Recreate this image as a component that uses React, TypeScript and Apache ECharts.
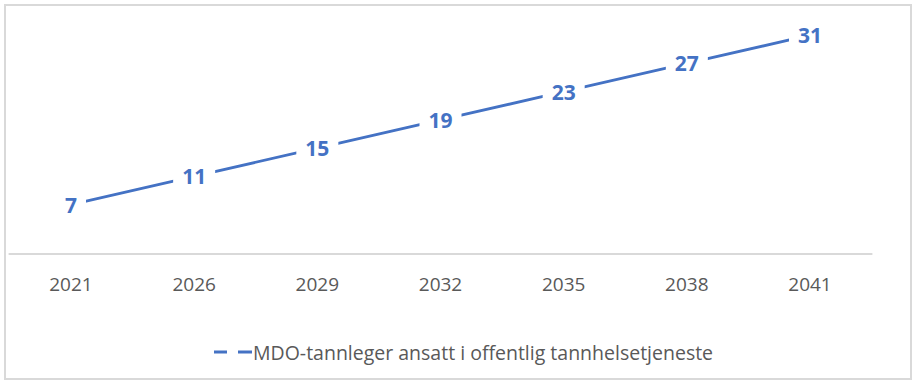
import React, { useEffect, useRef } from "react";
import * as echarts from "echarts";

const categories = ["2021", "2026", "2029", "2032", "2035", "2038", "2041"];
const values = [7, 11, 15, 19, 23, 27, 31];
const seriesName = "MDO-tannleger ansatt i offentlig tannhelsetjeneste";

export default function App() {
  const ref = useRef<HTMLDivElement>(null);
  useEffect(() => {
    if (!ref.current) return;
    const chart = echarts.init(ref.current, undefined, { renderer: "svg" });
    chart.setOption({
      animation: false,
      backgroundColor: "#ffffff",
      textStyle: { fontFamily: "Open Sans" },
      grid: { left: 9.4, right: 46.4, top: 7, bottom: 133 },
      xAxis: {
        type: "category",
        data: categories,
        boundaryGap: true,
        axisLine: { lineStyle: { color: "#d9d9d9", width: 2 } },
        axisTick: { show: false },
        axisLabel: { color: "#595959", fontSize: 19, margin: 20, fontFamily: "Open Sans" },
      },
      yAxis: {
        type: "value",
        min: 0,
        max: 35,
        show: false,
        splitLine: { show: false },
      },
      legend: {
        left: 209,
        top: 337,
        itemWidth: 38,
        itemHeight: 3,
        itemGap: 10,
        icon: "path://M0,0H13V3H0Z M24,0H38V3H24Z",
        textStyle: { color: "#595959", fontSize: 19.5, fontFamily: "Open Sans", padding: [0, 0, 0, -4] },
        data: [{ name: seriesName, itemStyle: { color: "#4472C4", opacity: 1 } }],
      },
      series: [
        {
          name: seriesName,
          type: "line",
          data: values,
          symbol: "circle",
          symbolSize: 1,
          showSymbol: true,
          itemStyle: { color: "rgba(68,114,196,0)" },
          lineStyle: { color: "#4472C4", width: 2.8 },
          label: {
            show: true,
            position: "inside",
            color: "#4472C4",
            fontWeight: "bold",
            fontSize: 21,
            fontFamily: "Open Sans",
            backgroundColor: "#ffffff",
            padding: [3, 9],
          },
        },
      ],
      graphic: [
        {
          type: "rect",
          shape: { x: 5, y: 5, width: 906, height: 374 },
          style: { fill: "none", stroke: "#d9d9d9", lineWidth: 2 },
          silent: true,
        },
      ],
    });
    return () => chart.dispose();
  }, []);
  return (
    <div
      ref={ref}
      style={{ position: "fixed", left: 0, top: 0, width: 918, height: 387 }}
    />
  );
}
